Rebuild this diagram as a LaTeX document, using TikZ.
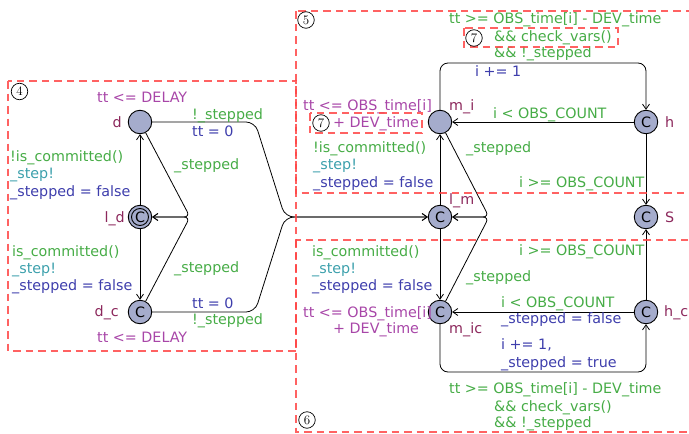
\documentclass[tikz,border=0pt]{standalone}
\usepackage{fontspec}
\newfontfamily\dvs{DejaVu Sans}
\usetikzlibrary{arrows.meta}

\definecolor{locfill}{RGB}{165,172,204}
\definecolor{grdc}{RGB}{70,172,70}
\definecolor{sync}{RGB}{60,160,172}
\definecolor{updc}{RGB}{62,62,172}
\definecolor{invc}{RGB}{168,70,168}
\definecolor{namc}{RGB}{140,40,92}
\definecolor{framec}{RGB}{255,70,70}

\begin{document}
\begin{tikzpicture}[x=1pt,y=-1pt,
  txt/.style={inner sep=0pt,font=\dvs\fontsize{14.3}{17}\selectfont},
  lbl/.style={txt,anchor=base west},
  grd/.style={lbl,text=grdc},
  syn/.style={lbl,text=sync},
  upd/.style={lbl,text=updc},
  inv/.style={lbl,text=invc},
  nam/.style={lbl,text=namc},
  loc/.style={circle,draw=black,line width=0.9pt,fill=locfill,minimum size=23.5pt,txt},
  edge/.style={line width=0.8pt,-{Straight Barb[length=5pt,width=7pt]}},
  frame/.style={draw=framec,draw opacity=0.85,line width=1.4pt,dash pattern=on 7.5pt off 5pt},
  tag/.style={circle,draw,line width=0.7pt,inner sep=0pt,minimum size=16.5pt,font=\fontsize{13}{13}\selectfont}]
\useasboundingbox (0,0) rectangle (689,434);

% ---- locations ----
\node[loc] (d)   at (140,122) {};
\node[loc] (ld)  at (140,217) {C};
\draw[line width=0.9pt] (ld.center) circle[radius=8.5pt];
\node[loc] (dc)  at (140,312) {C};
\node[loc] (lm)  at (440,217) {C};
\node[loc] (mi)  at (440,122) {};
\node[loc] (h)   at (646,122) {C};
\node[loc] (S)   at (646,217) {C};
\node[loc] (mic) at (440,312) {C};
\node[loc] (hc)  at (646,312) {C};

% ---- bend points ----
\coordinate (kd) at (190,217);
\coordinate (km) at (489,217);
\coordinate (jd1) at (255,122);
\coordinate (jd2) at (255,312);
\coordinate (jm) at (285,217);
\coordinate (ut1) at (440,63);
\coordinate (ut2) at (646,63);
\coordinate (lt1) at (440,372);
\coordinate (lt2) at (646,372);

% ---- transitions ----
\draw[edge] (ld) -- (d);
\draw[edge] (ld) -- (dc);
\draw[edge,rounded corners=6pt] (d) -- (kd) -- (ld);
\draw[edge,rounded corners=6pt] (dc) -- (kd) -- (ld);
\draw[edge,rounded corners=9pt] (d) -- (jd1) -- (jm) -- (lm);
\draw[edge,rounded corners=9pt] (dc) -- (jd2) -- (jm) -- (lm);
\draw[edge] (lm) -- (mi);
\draw[edge] (lm) -- (mic);
\draw[edge,rounded corners=6pt] (mi) -- (km) -- (lm);
\draw[edge,rounded corners=6pt] (mic) -- (km) -- (lm);
\draw[edge,rounded corners=8pt] (mi) -- (ut1) -- (ut2) -- (h);
\draw[edge] (h) -- (mi);
\draw[edge] (h) -- (S);
\draw[edge] (hc) -- (S);
\draw[edge] (hc) -- (mic);
\draw[edge,rounded corners=8pt] (mic) -- (lt1) -- (lt2) -- (hc);

% ---- names ----
\node[nam,anchor=base east] (nd)  at (122,127.5) {d};
\node[nam,anchor=base east] (nld) at (125,222) {l\_d};
\node[nam,anchor=base east] (ndc) at (119,316) {d\_c};
\node[nam] (nmi)  at (449,110.5) {m\_i};
\node[nam] (nlm)  at (449,204.5) {l\_m};
\node[nam] (nh)   at (665,127.5) {h};
\node[nam] (nS)   at (665,222.5) {S};
\node[nam] (nmic) at (449,333.5) {m\_ic};
\node[nam] (nhc)  at (664,316.5) {h\_c};

% ---- invariants ----
\node[inv] (i1) at (97,102) {tt <= DELAY};
\node[inv] (i2) at (97,342) {tt <= DELAY};
\node[inv] (i3) at (303,110.5) {tt <= OBS\_time[i]};
\node[inv] (i4) at (333,127.5) {+ DEV\_time};
\node[inv] (i5) at (303,317) {tt <= OBS\_time[i]};
\node[inv] (i6) at (333,333) {+ DEV\_time};

% ---- left automaton labels ----
\node[grd] (a1) at (192,119.5) {!\_stepped};
\node[upd] (a2) at (192,136) {tt = 0};
\node[grd] (a3) at (10,161) {!is\_committed()};
\node[syn] (a4) at (10,178) {\_step!};
\node[upd] (a5) at (10,196) {\_stepped = false};
\node[grd] (a6) at (174,169) {\_stepped};
\node[grd] (a7) at (12,256) {is\_committed()};
\node[syn] (a8) at (12,273) {\_step!};
\node[upd] (a9) at (12,290) {\_stepped = false};
\node[grd] (a10) at (174,272) {\_stepped};
\node[upd] (a11) at (192,308) {tt = 0};
\node[grd] (a12) at (192,324) {!\_stepped};

% ---- right automaton labels ----
\node[grd] (b1) at (449,23.5) {tt >= OBS\_time[i] - DEV\_time};
\node[grd] (b2) at (494,41.5) {\&\& check\_vars()};
\node[grd] (b3) at (494,57.5) {\&\& !\_stepped};
\node[upd] (b4) at (475,76) {i += 1};
\node[grd] (b5) at (493,118.5) {i < OBS\_COUNT};
\node[grd] (b6) at (313,152.5) {!is\_committed()};
\node[syn] (b7) at (313,169.5) {\_step!};
\node[upd] (b8) at (313,187.5) {\_stepped = false};
\node[grd] (b9) at (466,152.5) {\_stepped};
\node[grd] (b10) at (519,187.5) {i >= OBS\_COUNT};
\node[grd] (b11) at (312,256.5) {is\_committed()};
\node[syn] (b12) at (312,273.5) {\_step!};
\node[upd] (b13) at (312,290.5) {\_stepped = false};
\node[grd] (b14) at (519,255.5) {i >= OBS\_COUNT};
\node[grd] (b15) at (466,281.5) {\_stepped};
\node[grd] (b16) at (501,307.5) {i < OBS\_COUNT};
\node[upd] (b17) at (501,323.5) {\_stepped = false};
\node[upd] (b18) at (501,349.5) {i += 1,};
\node[upd] (b19) at (501,367.5) {\_stepped = true};
\node[grd] (b20) at (449,393.5) {tt >= OBS\_time[i] - DEV\_time};
\node[grd] (b21) at (494,411.5) {\&\& check\_vars()};
\node[grd] (b22) at (494,427.5) {\&\& !\_stepped};

% ---- region frames ----
\draw[frame] (8,81) rectangle (296,351);
\draw[frame] (296,11) rectangle (700,193);
\draw[frame] (296,240) rectangle (700,432);
\draw[frame] (464,28) rectangle (618,47);
\draw[frame] (310,113) rectangle (422,133);

% ---- region tags ----
\node[tag] (t4) at (19.5,91.5) {4};
\node[tag] (t5) at (306,20) {5};
\node[tag] (t6) at (307,420) {6};
\node[tag] (t7a) at (474,38) {7};
\node[tag] (t7b) at (321,123) {7};
\end{tikzpicture}
\end{document}
